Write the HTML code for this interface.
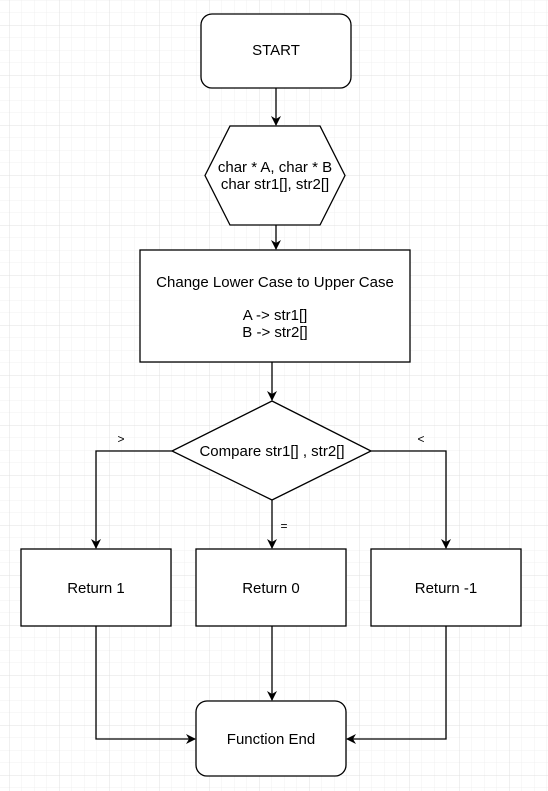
<!DOCTYPE html>
<html><head><style>
body{margin:0;background:#fff}
svg{display:block}
text{font-family:"Liberation Sans",Arial,sans-serif;font-size:15px;fill:#000}
</style></head><body>
<svg width="548" height="791" xmlns="http://www.w3.org/2000/svg">
<defs>
<pattern id="mn" width="12.5" height="12.5" patternUnits="userSpaceOnUse" x="9" y="0">
<path d="M0 0V12.5M0 0H12.5" stroke="#f0f0f0" stroke-width="1" fill="none"/>
</pattern>
<pattern id="mj" width="50" height="50" patternUnits="userSpaceOnUse" x="9" y="25">
<path d="M0 0V50M0 0H50" stroke="#e0e0e0" stroke-width="1" fill="none"/>
</pattern>
<marker id="a" markerWidth="10" markerHeight="10" refX="9" refY="5" orient="auto" markerUnits="userSpaceOnUse">
<path d="M0 0L10 5L0 10L3 5Z" fill="#000"/>
</marker>
</defs>
<rect width="548" height="791" fill="url(#mn)"/>
<rect width="548" height="791" fill="url(#mj)"/>
<g stroke="#000" stroke-width="1.3" fill="#fff">
<rect x="201" y="14" width="150" height="74" rx="11"/>
<polygon points="230,126 320,126 345,175.5 320,225 230,225 205,175.5"/>
<rect x="140" y="250" width="270" height="112"/>
<polygon points="272,401 371,451 272,500 172,451"/>
<rect x="21" y="549" width="150" height="77"/>
<rect x="196" y="549" width="150" height="77"/>
<rect x="371" y="549" width="150" height="77"/>
<rect x="196" y="701" width="150" height="75" rx="11"/>
</g>
<g stroke="#000" stroke-width="1.3" fill="none" marker-end="url(#a)">
<path d="M276 88V125"/>
<path d="M276 225V249"/>
<path d="M272 362V400"/>
<path d="M172 451H96V548"/>
<path d="M371 451H446V548"/>
<path d="M272 500V548"/>
<path d="M272 626V700"/>
<path d="M96 626V739H195"/>
<path d="M446 626V739H347"/>
</g>
<text x="276" y="55" text-anchor="middle">START</text>
<text x="275" y="172" text-anchor="middle">char * A, char * B</text>
<text x="275" y="189" text-anchor="middle">char str1[], str2[]</text>
<text x="275" y="287" text-anchor="middle">Change Lower Case to Upper Case</text>
<text x="275" y="320" text-anchor="middle">A -&gt; str1[]</text>
<text x="275" y="337" text-anchor="middle">B -&gt; str2[]</text>
<text x="272" y="456" text-anchor="middle">Compare str1[] , str2[]</text>
<text x="121" y="443" text-anchor="middle" style="font-size:12px">&gt;</text>
<text x="421" y="443" text-anchor="middle" style="font-size:12px">&lt;</text>
<text x="284" y="530" text-anchor="middle" style="font-size:12px">=</text>
<text x="96" y="593" text-anchor="middle">Return 1</text>
<text x="271" y="593" text-anchor="middle">Return 0</text>
<text x="446" y="593" text-anchor="middle">Return -1</text>
<text x="271" y="744" text-anchor="middle">Function End</text>
</svg>
</body></html>
